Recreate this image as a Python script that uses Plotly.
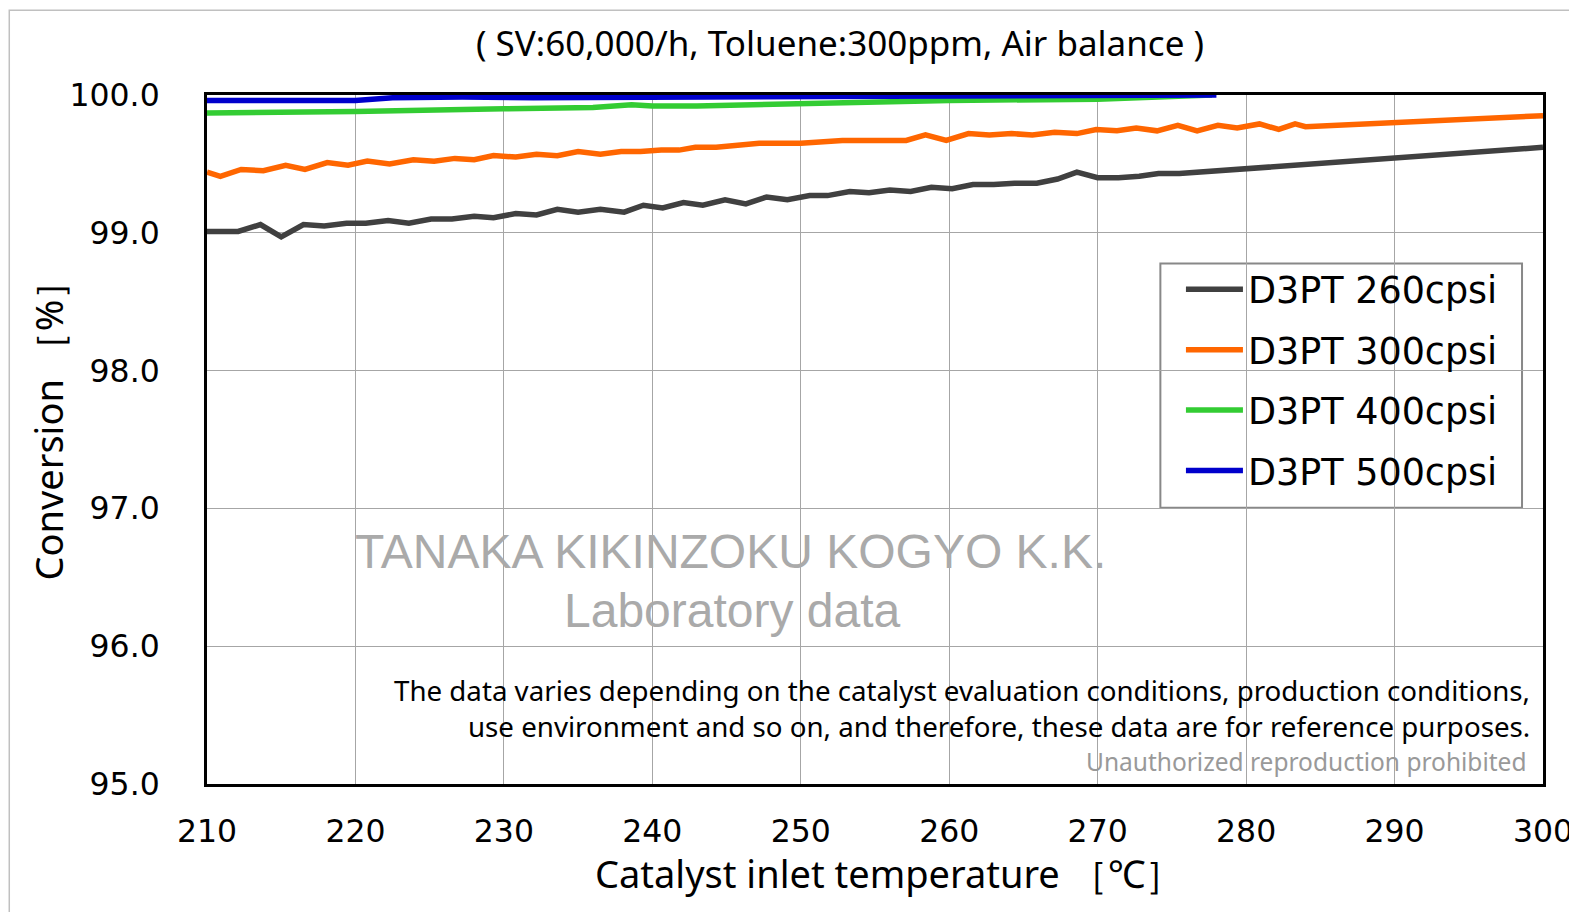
import plotly.graph_objects as go

# ---- data ----
t_260 = [210.0, 212.1, 213.6, 215.0, 216.5, 217.9, 219.4, 220.7, 222.2, 223.6, 225.1, 226.5, 228.0, 229.3,
         230.8, 232.2, 233.6, 235.0, 236.5, 238.1, 239.4, 240.7, 242.1, 243.4, 244.9, 246.3, 247.7, 249.1,
         250.6, 251.8, 253.3, 254.6, 256.0, 257.4, 258.8, 260.2, 261.6, 263.0, 264.4, 265.9, 267.3, 268.6,
         270.0, 271.4, 272.8, 274.1, 275.5, 300.0]
v_260 = [99.01, 99.01, 99.06, 98.97, 99.06, 99.05, 99.07, 99.07, 99.09, 99.07, 99.10, 99.10, 99.12, 99.11,
         99.14, 99.13, 99.17, 99.15, 99.17, 99.15, 99.20, 99.18, 99.22, 99.20, 99.24, 99.21, 99.26, 99.24,
         99.27, 99.27, 99.30, 99.29, 99.31, 99.30, 99.33, 99.32, 99.35, 99.35, 99.36, 99.36, 99.39, 99.44,
         99.40, 99.40, 99.41, 99.43, 99.43, 99.62]

t_300 = [210.0, 210.9, 212.3, 213.8, 215.3, 216.6, 218.1, 219.5, 220.8, 222.3, 223.9, 225.3, 226.7, 228.0,
         229.3, 230.8, 232.2, 233.6, 235.0, 236.5, 237.9, 239.2, 240.6, 241.8, 242.9, 244.3, 247.2, 250.0,
         252.8, 257.1, 258.4, 259.8, 261.3, 262.7, 264.2, 265.6, 267.1, 268.6, 269.9, 271.3, 272.6, 274.0,
         275.4, 276.7, 278.1, 279.4, 280.9, 282.2, 283.3, 284.0, 300.0]
v_300 = [99.44, 99.41, 99.46, 99.45, 99.49, 99.46, 99.51, 99.49, 99.52, 99.50, 99.53, 99.52, 99.54, 99.53,
         99.56, 99.55, 99.57, 99.56, 99.59, 99.57, 99.59, 99.59, 99.60, 99.60, 99.62, 99.62, 99.65, 99.65,
         99.67, 99.67, 99.71, 99.67, 99.72, 99.71, 99.72, 99.71, 99.73, 99.72, 99.75, 99.74, 99.76, 99.74,
         99.78, 99.74, 99.78, 99.76, 99.79, 99.75, 99.79, 99.77, 99.85]

t_400 = [210.0, 220.0, 230.0, 236.0, 238.6, 240.0, 243.0, 250.0, 260.0, 270.0, 276.0, 277.7]
v_400 = [99.87, 99.88, 99.90, 99.91, 99.93, 99.92, 99.92, 99.94, 99.96, 99.97, 99.99, 100.0]

t_500 = [210.0, 220.0, 222.5, 227.2, 232.0, 240.0, 250.0, 260.0, 270.0, 278.0]
v_500 = [99.96, 99.96, 99.98, 99.985, 99.98, 99.985, 99.99, 99.99, 100.0, 100.0]

series_names = ["D3PT 260cpsi", "D3PT 300cpsi", "D3PT 400cpsi", "D3PT 500cpsi"]
series_colors = ["#404040", "#ff6600", "#33cc33", "#0000cc"]

x_ticks = [210, 220, 230, 240, 250, 260, 270, 280, 290, 300]
y_ticks = [95.0, 96.0, 97.0, 98.0, 99.0, 100.0]

title_text = "( SV:60,000/h, Toluene:300ppm, Air balance )"
x_title = "Catalyst inlet temperature ［℃］"
y_title = "Conversion ［%］"
watermark1 = "TANAKA KIKINZOKU KOGYO K.K."
watermark2 = "Laboratory data"
note1 = "The data varies depending on the catalyst evaluation conditions, production conditions,"
note2 = "use environment and so on, and therefore, these data are for reference purposes."
note3 = "Unauthorized reproduction prohibited"

fig = go.Figure()
for t, v, name, col in zip([t_260, t_300, t_400, t_500], [v_260, v_300, v_400, v_500],
                           series_names, series_colors):
    fig.add_trace(go.Scatter(x=t, y=v, mode="lines", name=name, legendgroup=name,
                             line=dict(color=col, width=5.5)))

main_font = "DejaVu Sans"
text_font = "Noto Sans"

fig.update_layout(
    width=1577, height=912,
    margin=dict(l=199, r=33, t=87, b=136),
    paper_bgcolor="white", plot_bgcolor="white",
    showlegend=True,
    legend=dict(x=0.729, y=0.762, xanchor="left", yanchor="top",
                bgcolor="rgba(0,0,0,0)", borderwidth=0, itemwidth=57,
                font=dict(family=main_font, size=36.5, color="black"),
                tracegroupgap=10, traceorder="grouped"),
    xaxis=dict(range=[210, 300], tickvals=x_ticks, ticktext=[str(v) for v in x_ticks],
               showgrid=True, gridcolor="#a6a6a6", gridwidth=1,
               showline=True, linecolor="black", linewidth=3, mirror=True,
               ticks="", ticklabelstandoff=17,
               tickfont=dict(family=main_font, size=31.5, color="black"),
               zeroline=False),
    yaxis=dict(range=[95, 100], tickvals=y_ticks, ticktext=["%.1f" % v for v in y_ticks],
               showgrid=True, gridcolor="#a6a6a6", gridwidth=1,
               showline=True, linecolor="black", linewidth=3, mirror=True,
               ticks="", ticklabelstandoff=38,
               tickfont=dict(family=main_font, size=31.5, color="black"),
               zeroline=False),
)

annotations = [
    dict(text=title_text, xref="paper", yref="paper", x=0.474, y=1.0, yshift=53, xanchor="center",
         yanchor="middle", showarrow=False, font=dict(family=text_font, size=35, color="black")),
    dict(text=x_title, xref="paper", yref="paper", x=0.5, y=0.0, xshift=14, yshift=-89,
         xanchor="center", yanchor="middle", showarrow=False,
         font=dict(family=text_font, size=38, color="black")),
    dict(text=y_title, xref="paper", yref="paper", x=0.0, y=0.5, xshift=-160, yshift=18,
         xanchor="center", yanchor="middle", textangle=-90, showarrow=False,
         font=dict(family=text_font, size=38, color="black")),
    dict(text=watermark1, xref="paper", yref="paper", x=0.392, y=0.337, xanchor="center", yanchor="middle",
         showarrow=False, font=dict(family="Liberation Sans", size=48, color="#aaaaaa")),
    dict(text=watermark2, xref="paper", yref="paper", x=0.393, y=0.252, xanchor="center", yanchor="middle",
         showarrow=False, font=dict(family="Liberation Sans", size=48, color="#aaaaaa")),
    dict(text=note1, xref="paper", yref="paper", x=0.992, y=0.136, xanchor="right", yanchor="middle",
         showarrow=False, font=dict(family=text_font, size=27.7, color="black")),
    dict(text=note2, xref="paper", yref="paper", x=0.992, y=0.084, xanchor="right", yanchor="middle",
         showarrow=False, font=dict(family=text_font, size=27.7, color="black")),
    dict(text=note3, xref="paper", yref="paper", x=0.989, y=0.033, xanchor="right", yanchor="middle",
         showarrow=False, font=dict(family=text_font, size=24.5, color="#999999")),
]
fig.update_layout(annotations=annotations)

# legend frame
fig.add_shape(type="rect", xref="paper", yref="paper",
              x0=0.7136, x1=0.9843, y0=0.4009, y1=0.7554,
              line=dict(color="#888888", width=2), fillcolor="white", layer="below")

# outer light frame of the figure
fig.add_shape(type="rect", xref="paper", yref="paper",
              x0=-0.148, y0=-0.5, x1=1.2, y1=1.123,
              line=dict(color="#c0c0c0", width=1.5), fillcolor="rgba(0,0,0,0)", layer="below")

fig.write_html("out.html")
